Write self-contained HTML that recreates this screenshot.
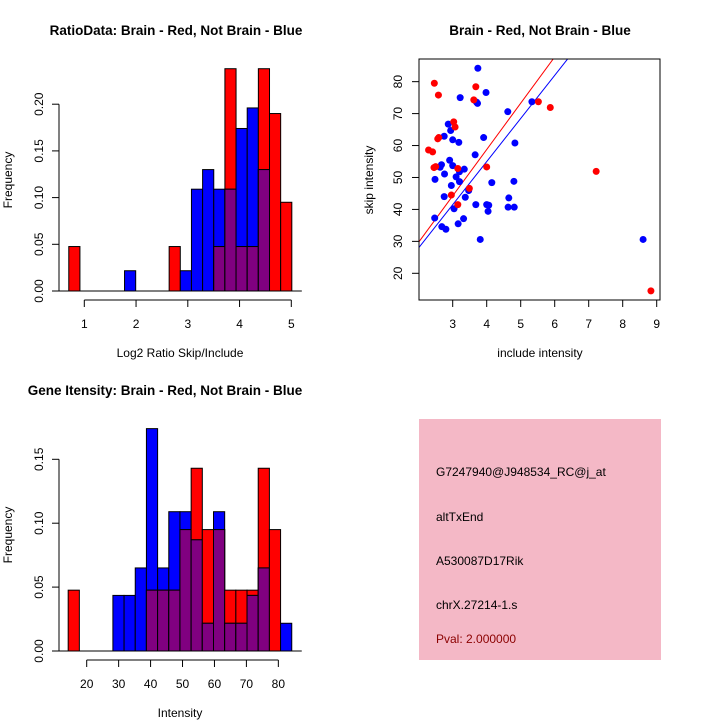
<!DOCTYPE html>
<html><head><meta charset="utf-8"><style>
body{margin:0;background:#fff}
svg{display:block;font-family:"Liberation Sans",sans-serif}
</style></head><body>
<svg id="c" width="720" height="720" xmlns="http://www.w3.org/2000/svg"></svg>
<script>
// ---- data ----
const ratioRed  = [0.0476,0,0,0,0,0,0,0,0,0.0476,0,0,0,0.0476,0.238,0.0476,0.0476,0.238,0.190,0.095];
const ratioBlue = [0,0,0,0,0,0.0217,0,0,0,0,0.0217,0.109,0.130,0.109,0.109,0.174,0.196,0.130,0,0];
const ratioStart = 0.70, ratioBinW = 0.2155;
const ratioXTicks = [1,2,3,4,5];
const ratioYTicks = [0,0.05,0.10,0.15,0.20];
const ratioYLabels = ["0.00","0.05","0.10","0.15","0.20"];

const intRed  = [0.0476,0,0,0,0,0,0,0.0476,0.0476,0.0476,0.095,0.143,0.095,0.095,0.0476,0.0476,0.0476,0.143,0.095,0];
const intBlue = [0,0,0,0,0.0435,0.0435,0.065,0.174,0.065,0.109,0.109,0.087,0.0217,0.109,0.0217,0.0217,0.0435,0.065,0,0.0217];
const intStart = 14.2, intBinW = 3.5;
const intXTicks = [20,30,40,50,60,70,80];
const intYTicks = [0,0.05,0.10,0.15];
const intYLabels = ["0.00","0.05","0.10","0.15"];

const blueX = [3.74,3.98,3.22,3.73,3.70,5.33,4.62,2.87,2.94,2.75,3.0,3.18,3.91,4.83,3.66,2.91,3.0,2.67,2.63,3.2,3.34,3.1,2.76,2.48,3.2,2.96,4.15,4.8,3.47,2.75,3.37,4.65,3.68,4.0,4.06,4.63,4.81,3.04,4.04,2.47,3.32,3.16,2.68,2.8,3.81,8.6];
const blueY = [84.2,76.6,75.0,73.2,73.6,73.7,70.6,66.7,64.7,62.9,61.8,61.0,62.5,60.8,57.1,55.4,53.7,54.0,53.2,51.8,52.6,50.2,51.1,49.4,48.7,47.5,48.4,48.8,45.9,44.0,43.8,43.6,41.5,41.5,41.3,40.7,40.7,40.2,39.4,37.3,37.1,35.5,34.6,33.8,30.6,30.6];
const redX = [2.46,2.58,3.68,3.62,5.52,5.87,3.03,3.07,2.56,2.59,2.29,2.41,2.45,2.50,3.15,4.0,3.49,2.96,3.15,7.22,8.83];
const redY = [79.5,75.8,78.4,74.3,73.7,71.9,67.4,65.8,62.1,62.5,58.6,58.0,53.1,53.4,52.8,53.3,46.6,44.5,41.5,51.9,14.5];
const redFit = [0.75,14.5];   // intercept, slope
const blueFit = [0.97,13.5];
const scXTicks = [3,4,5,6,7,8,9];
const scYTicks = [20,30,40,50,60,70,80];

// ---- helpers ----
const svg = document.getElementById('c');
const NS = 'http://www.w3.org/2000/svg';
function mk(tag, attrs, parent){
  const e = document.createElementNS(NS, tag);
  for (const k in attrs) e.setAttribute(k, attrs[k]);
  (parent||svg).appendChild(e);
  return e;
}
function txt(x,y,s,opt,parent){
  const t = mk('text',Object.assign({x:x,y:y,'font-size':12,'text-anchor':'middle',fill:'#000'},opt||{}),parent);
  t.textContent = s;
  return t;
}

function histogram(name, o){
  const g = mk('g',{});
  
  
  const sx = v => o.x0px + (v - o.x0) * o.pxPerX;
  const sy = v => o.y0px - v * o.pxPerY;
  for (let i=0;i<o.red.length;i++){
    const r=o.red[i], b=o.blue[i];
    const x1 = sx(o.start + i*o.binW), x2 = sx(o.start + (i+1)*o.binW);
    const draw=(v,col,nm)=>{
      if(v<=0) return;
      const rc = mk('rect',{x:x1,y:sy(v),width:x2-x1,height:sy(0)-sy(v),fill:col,stroke:'#000','stroke-width':1},g);
      
      
    };
    if (r>=b){ draw(r,'#ff0000','bar-red'); draw(b,'#0000ff','bar-blue'); }
    else { draw(b,'#0000ff','bar-blue'); draw(r,'#ff0000','bar-red'); }
    if (r>0 && b>0) draw(Math.min(r,b),'#800080','bar-overlap');
  }
  mk('line',{x1:o.yAxisX-7,y1:sy(0),x2:sx(o.start+o.red.length*o.binW)+10,y2:sy(0),stroke:'#000'},g);
  const ya = mk('g',{},g);
  
  
  mk('line',{x1:o.yAxisX,y1:sy(o.yTicks[0]),x2:o.yAxisX,y2:sy(o.yTicks[o.yTicks.length-1]),stroke:'#000'},ya);
  o.yTicks.forEach((v,i)=>{
    mk('line',{x1:o.yAxisX-7,y1:sy(v),x2:o.yAxisX,y2:sy(v),stroke:'#000'},ya);
    const t=txt(o.yAxisX-16,sy(v),o.yLabels[i],{transform:`rotate(-90 ${o.yAxisX-16} ${sy(v)})`},ya);
    
    
  });
  const xa = mk('g',{},g);
  
  
  mk('line',{x1:sx(o.xTicks[0]),y1:o.xAxisY,x2:sx(o.xTicks[o.xTicks.length-1]),y2:o.xAxisY,stroke:'#000'},xa);
  o.xTicks.forEach(v=>{
    mk('line',{x1:sx(v),y1:o.xAxisY,x2:sx(v),y2:o.xAxisY+7,stroke:'#000'},xa);
    const t=txt(sx(v),o.xAxisY+28,String(v),{},xa);
    
    
  });
  const tt=txt(o.titleX,o.titleY,o.title,{'font-weight':'bold','font-size':13.5},g);
  
  
  const xt=txt(o.xlabX,o.xlabY,o.xlab,{},g);
  
  
  const yt=txt(12,o.ylabY,'Frequency',{transform:`rotate(-90 12 ${o.ylabY})`},g);
  
  
}

histogram('ratio-histogram',{red:ratioRed,blue:ratioBlue,start:ratioStart,binW:ratioBinW,
  x0:1,x0px:84.3,pxPerX:51.75,y0px:291,pxPerY:934,yAxisX:59,xAxisY:300,
  xTicks:ratioXTicks,yTicks:ratioYTicks,yLabels:ratioYLabels,
  title:'RatioData: Brain - Red, Not Brain - Blue',titleX:176,titleY:35,
  xlab:'Log2 Ratio Skip/Include',xlabX:180,xlabY:357,ylabY:180});

histogram('intensity-histogram',{red:intRed,blue:intBlue,start:intStart,binW:intBinW,
  x0:20,x0px:86.7,pxPerX:3.194,y0px:651,pxPerY:1278,yAxisX:59,xAxisY:660,
  xTicks:intXTicks,yTicks:intYTicks,yLabels:intYLabels,
  title:'Gene Itensity: Brain - Red, Not Brain - Blue',titleX:165,titleY:395,
  xlab:'Intensity',xlabX:180,xlabY:717,ylabY:535});

// ---- scatter ----
(function(){
  const g = mk('g',{});
  
  
  const L=419,R=660,T=59,B=300;
  const sx = v => 452.7 + (v-3)*34;
  const sy = v => 273.3 - (v-20)*3.194;
  mk('clipPath',{id:'clp'},g).appendChild(mk('rect',{x:L,y:T,width:R-L,height:B-T}));
  [[redFit,'#ff0000','fit-line-red'],[blueFit,'#0000ff','fit-line-blue']].forEach(([f,c,n])=>{
    const xa=1.5, xb=9.5;
    const ln=mk('line',{x1:sx(xa),y1:sy(f[0]+f[1]*xa),x2:sx(xb),y2:sy(f[0]+f[1]*xb),stroke:c,'clip-path':'url(#clp)'},g);
    
    
  });
  blueX.forEach((x,i)=>{
    const p=mk('circle',{cx:sx(x),cy:sy(blueY[i]),r:3.5,fill:'#0000ff'},g);
    
    
  });
  redX.forEach((x,i)=>{
    const p=mk('circle',{cx:sx(x),cy:sy(redY[i]),r:3.5,fill:'#ff0000'},g);
    
    
  });
  mk('rect',{x:L,y:T,width:R-L,height:B-T,fill:'none',stroke:'#000'},g);
  scXTicks.forEach(v=>{
    mk('line',{x1:sx(v),y1:B,x2:sx(v),y2:B+7,stroke:'#000'},g);
    const t=txt(sx(v),B+28,String(v),{},g);
    
    
  });
  scYTicks.forEach(v=>{
    mk('line',{x1:L-7,y1:sy(v),x2:L,y2:sy(v),stroke:'#000'},g);
    const t=txt(L-17,sy(v),String(v),{transform:`rotate(-90 ${L-17} ${sy(v)})`},g);
    
    
  });
  const tt=txt(540,35,'Brain - Red, Not Brain - Blue',{'font-weight':'bold','font-size':13.5},g);
  
  
  const xt=txt(540,357,'include intensity',{},g);
  
  
  const yt=txt(373,180,'skip intensity',{transform:'rotate(-90 373 180)'},g);
  
  
})();

// ---- info box ----
(function(){
  const g = mk('g',{});
  
  
  mk('rect',{x:419,y:419,width:242,height:241,fill:'#f4b8c6'},g);
  const lines=[['G7247940@J948534_RC@j_at',476,'#000','probe-id'],['altTxEnd',521,'#000','event-type'],
    ['A530087D17Rik',565,'#000','gene-name'],['chrX.27214-1.s',609,'#000','chromosome-id'],['Pval: 2.000000',643,'#8b0000','p-value']];
  lines.forEach(([s,y,c,n])=>{
    const t=txt(436,y,s,{'text-anchor':'start',fill:c},g);
    
    
  });
})();
</script>
</body></html>
